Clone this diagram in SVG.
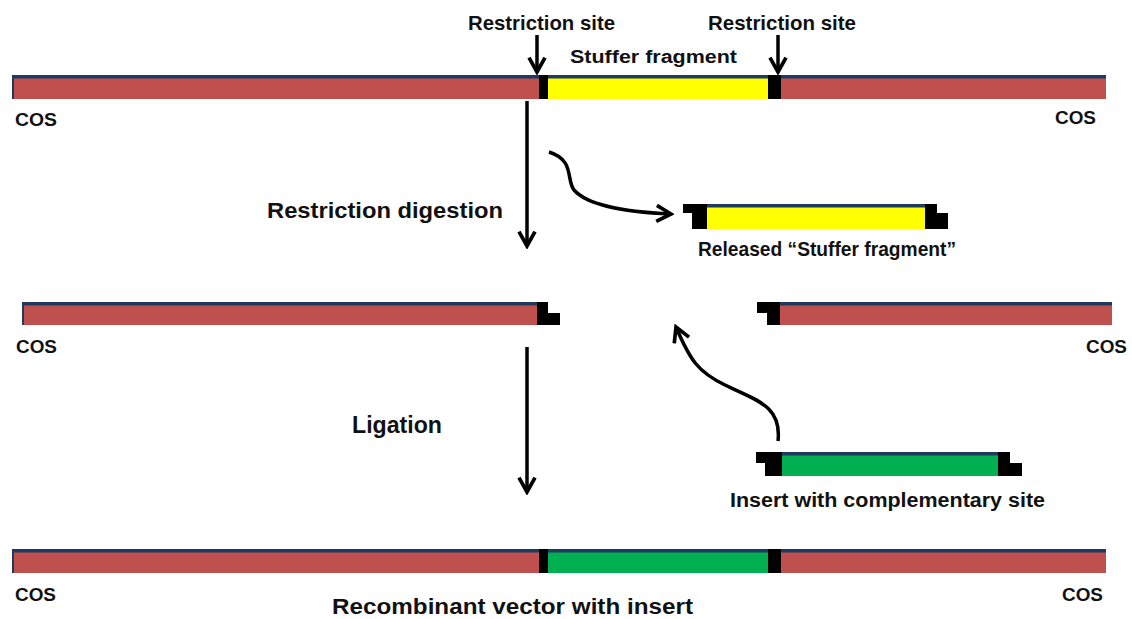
<svg xmlns="http://www.w3.org/2000/svg" width="1132" height="619" viewBox="0 0 1132 619">
  <style>
    .lbl { font-family: "Liberation Sans", Arial, sans-serif; font-weight: bold; fill: #111; }
    .s18 { font-size: 18px; }
    .s20 { font-size: 20px; }
    .s21 { font-size: 21px; }
    .s22 { font-size: 22px; }
    .s23 { font-size: 23px; }
    .cos { font-family: "Liberation Sans", Arial, sans-serif; font-weight: bold; font-size: 19px; fill: #111; }
    .red { fill: #C0504D; }
    .yel { fill: #FFFF00; }
    .grn { fill: #00B050; }
    .blk { fill: #000; }
    .edge { fill: #1F3A5F; }
    .conn { fill: none; stroke: #000; stroke-width: 3.5; }
  </style>
  <defs>
    <marker id="head" viewBox="0 0 12 12" refX="10" refY="6" markerWidth="5.5" markerHeight="5.5" orient="auto" markerUnits="strokeWidth">
      <path d="M1,1 L10,6 L1,11" fill="none" stroke="#000" stroke-width="2.3" stroke-linejoin="miter"/>
    </marker>
  </defs>
  <rect width="1132" height="619" fill="#fff"/>

  <!-- Top vector with stuffer -->
  <g id="vector-top">
    <rect class="red" x="12" y="75" width="1094" height="24"/>
    <rect class="yel" x="548" y="75" width="220" height="24"/>
    <rect class="edge" x="12" y="75" width="1094" height="3.5"/>
    <rect class="edge" x="12" y="75" width="2" height="24"/>
    <rect class="blk" x="539" y="75" width="9" height="24"/>
    <rect class="blk" x="768" y="75" width="13" height="24"/>
    <text class="cos" x="15" y="126" textLength="42" lengthAdjust="spacingAndGlyphs">COS</text>
    <text class="cos" x="1055" y="124" textLength="41" lengthAdjust="spacingAndGlyphs">COS</text>
  </g>
  <g id="site-left">
    <text class="lbl s21" x="468" y="30" textLength="147" lengthAdjust="spacingAndGlyphs">Restriction site</text>
  </g>
  <g id="site-right">
    <text class="lbl s21" x="708" y="30" textLength="148" lengthAdjust="spacingAndGlyphs">Restriction site</text>
  </g>
  <g id="stuffer-label">
    <text class="lbl s18" x="570" y="63" textLength="167" lengthAdjust="spacingAndGlyphs">Stuffer fragment</text>
  </g>
  <g id="step-digestion">
    <text class="lbl s22" x="267" y="218" textLength="236" lengthAdjust="spacingAndGlyphs">Restriction digestion</text>
  </g>

  <!-- Released stuffer fragment -->
  <g id="released-fragment">
    <rect class="yel" x="707" y="204" width="218" height="25"/>
    <rect class="edge" x="707" y="204" width="218" height="3.5"/>
    <path class="blk" d="M683,204 H707 V229 H692 V213 H683 Z"/>
    <path class="blk" d="M925,204 H937 V213 H948 V229 H925 Z"/>
    <text class="lbl s21" x="698" y="256" textLength="258" lengthAdjust="spacingAndGlyphs">Released “Stuffer fragment”</text>
  </g>

  <!-- Cut vector arms -->
  <g id="arm-left">
    <rect class="red" x="22" y="302" width="515" height="23"/>
    <rect class="edge" x="22" y="302" width="515" height="3.5"/>
    <rect class="edge" x="22" y="302" width="2" height="23"/>
    <path class="blk" d="M537,302 H548 V313 H560 V325 H537 Z"/>
    <text class="cos" x="16" y="353" textLength="41" lengthAdjust="spacingAndGlyphs">COS</text>
  </g>
  <g id="arm-right">
    <rect class="red" x="780" y="302" width="332" height="23"/>
    <rect class="edge" x="780" y="302" width="332" height="3.5"/>
    <path class="blk" d="M757,302 H780 V325 H767 V313 H757 Z"/>
    <text class="cos" x="1086" y="353" textLength="41" lengthAdjust="spacingAndGlyphs">COS</text>
  </g>
  <g id="step-ligation">
    <text class="lbl s23" x="352" y="433" textLength="90" lengthAdjust="spacingAndGlyphs">Ligation</text>
  </g>

  <!-- Insert -->
  <g id="insert">
    <rect class="grn" x="782" y="452" width="216" height="24"/>
    <rect class="edge" x="782" y="452" width="216" height="3.5"/>
    <path class="blk" d="M756,452 H782 V476 H765 V463 H756 Z"/>
    <path class="blk" d="M998,452 H1010 V463 H1022 V476 H998 Z"/>
    <text class="lbl s20" x="730" y="507" textLength="315" lengthAdjust="spacingAndGlyphs">Insert with complementary site</text>
  </g>

  <!-- Recombinant vector -->
  <g id="vector-recombinant">
    <rect class="red" x="12" y="549" width="1094" height="24"/>
    <rect class="grn" x="548" y="549" width="220" height="24"/>
    <rect class="edge" x="12" y="549" width="1094" height="3.5"/>
    <rect class="edge" x="12" y="549" width="2" height="24"/>
    <rect class="blk" x="539" y="549" width="9" height="24"/>
    <rect class="blk" x="768" y="549" width="13" height="24"/>
    <text class="cos" x="15" y="601" textLength="41" lengthAdjust="spacingAndGlyphs">COS</text>
    <text class="cos" x="1062" y="601" textLength="41" lengthAdjust="spacingAndGlyphs">COS</text>
    <text class="lbl s22" x="332" y="614" textLength="361" lengthAdjust="spacingAndGlyphs">Recombinant vector with insert</text>
  </g>

  <!-- Connectors -->
  <g id="connectors">
    <line class="conn" x1="537" y1="35" x2="537" y2="72" marker-end="url(#head)"/>
    <line class="conn" x1="778" y1="35" x2="778" y2="72" marker-end="url(#head)"/>
    <line class="conn" x1="527" y1="101" x2="527" y2="246" marker-end="url(#head)"/>
    <path class="conn" d="M549,152 C575,160 566,180 574,190 C588,206 625,212 671,214" marker-end="url(#head)"/>
    <line class="conn" x1="527" y1="347" x2="527" y2="492" marker-end="url(#head)"/>
    <path class="conn" d="M778,441 C782,405 755,400 725,385 C698,372 690,360 676,327" marker-end="url(#head)"/>
  </g>
</svg>
